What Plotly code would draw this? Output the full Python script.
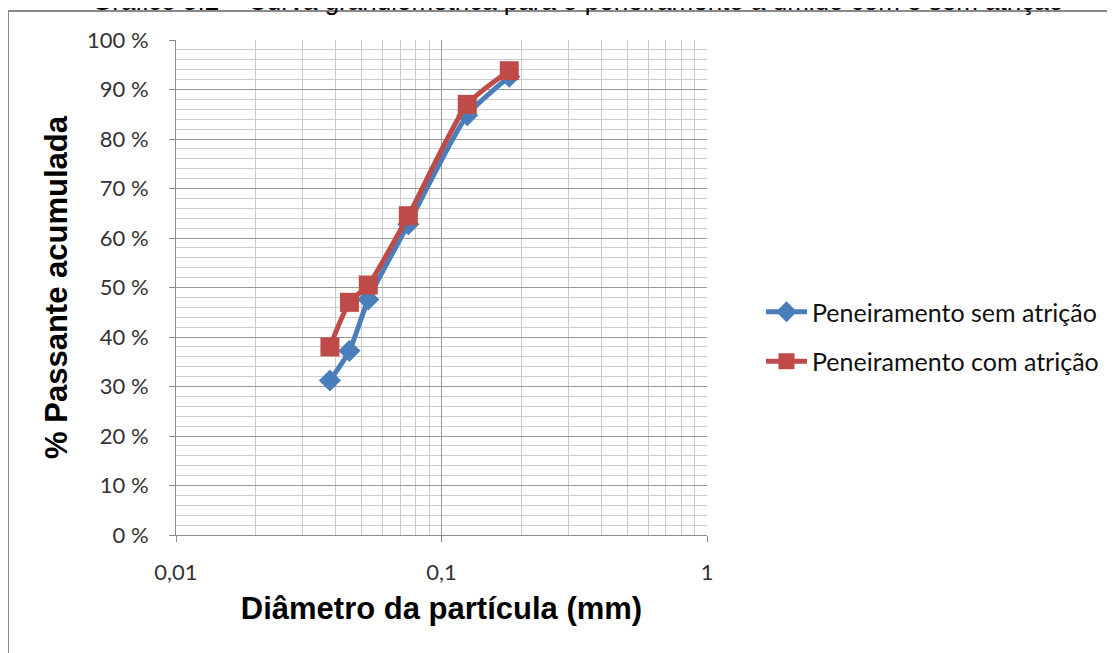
import plotly.graph_objects as go

diametro = [0.038, 0.045, 0.053, 0.075, 0.125, 0.180]
sem_atricao = [31.2, 37.2, 47.6, 62.8, 84.8, 92.6]
com_atricao = [38.0, 47.0, 50.5, 64.5, 87.0, 93.8]
nomes = ["Peneiramento sem atrição", "Peneiramento com atrição"]
titulo = "Gráfico 5.2 – Curva granulométrica para o peneiramento a úmido com e sem atrição"
x_ticks = [0.01, 0.1, 1]
x_ticktext = ["0,01", "0,1", "1"]

W, H = 1115, 653
OFF = 8  # page body margin
PL, PR, PT, PB = 176, 707, 40, 535  # plot area in page pixels
PW, PH = PR - PL, PB - PT


def px(xpage):
    return (xpage - PL) / PW


def py(ypage):
    return 1 - (ypage - PT) / PH


fig = go.Figure()
fig.add_trace(go.Scatter(
    x=diametro, y=sem_atricao, name=nomes[0], legendgroup="a",
    mode="lines+markers", line=dict(color="#4A7EBB", width=5, shape="spline", smoothing=0.6),
    marker=dict(symbol="diamond", size=17, color="#4A7EBB")))
fig.add_trace(go.Scatter(
    x=diametro, y=com_atricao, name=nomes[1], legendgroup="b",
    mode="lines+markers", line=dict(color="#BE4B48", width=5, shape="spline", smoothing=0.6),
    marker=dict(symbol="square", size=19, color="#BE4B48")))

fig.update_layout(
    width=W, height=H,
    margin=dict(l=PL - OFF, r=W - PL + OFF - PW, t=PT - OFF, b=H - PT + OFF - PH, pad=0),
    paper_bgcolor="white", plot_bgcolor="white",
    font=dict(family="Liberation Sans, Arial", color="#404040"),
    showlegend=True,
    legend=dict(x=px(761), y=py(289), xanchor="left", yanchor="top",
                font=dict(family="Lato", size=25, color="#111111"),
                itemwidth=41,
                traceorder="grouped", tracegroupgap=14, bgcolor="rgba(0,0,0,0)"),
    xaxis=dict(type="log", range=[-2, 0], tickvals=x_ticks, ticktext=x_ticktext,
               showgrid=True, gridcolor="#999999", gridwidth=1,
               showline=True, linecolor="#8c8c8c", linewidth=1,
               ticks="outside", ticklen=6, tickcolor="#8c8c8c",
               tickfont=dict(family="Lato", size=22, color="#333333"),
               ticklabelstandoff=12,
               minor=dict(dtick="D1", showgrid=True, gridcolor="#cccccc", gridwidth=1, ticks=""),
               title=dict(text="<b>Diâmetro da partícula (mm)</b>",
                          font=dict(family="Liberation Sans, Arial", size=31, color="#000000"),
                          standoff=12),
               zeroline=False),
    yaxis=dict(range=[0, 100], dtick=10, ticksuffix=" %",
               showgrid=True, gridcolor="#999999", gridwidth=1,
               showline=True, linecolor="#8c8c8c", linewidth=1,
               ticks="outside", ticklen=6, tickcolor="#8c8c8c",
               tickfont=dict(family="Lato", size=22, color="#333333"),
               ticklabelstandoff=16,
               minor=dict(dtick=2, showgrid=True, gridcolor="#cccccc", gridwidth=1, ticks=""),
               title=dict(text="<b>% Passante acumulada</b>",
                          font=dict(family="Liberation Sans, Arial", size=31, color="#000000"),
                          standoff=10),
               zeroline=False),
)

# Title (cut off at the top of the page, as in the source)
fig.add_annotation(text=titulo, xref="paper", yref="paper",
                   x=px(577), y=py(1), xanchor="center", yanchor="middle",
                   showarrow=False, font=dict(family="Liberation Sans, Arial", size=26, color="#000000"))

# Frame lines around the figure (top and left)
fig.add_shape(type="line", xref="paper", yref="paper",
              x0=px(8), x1=px(W + 10), y0=py(11), y1=py(11),
              line=dict(color="#8a8a8a", width=2))
fig.add_shape(type="line", xref="paper", yref="paper",
              x0=px(8), x1=px(8), y0=py(11), y1=py(H + 10),
              line=dict(color="#8a8a8a", width=2))

fig.write_html("out.html")
